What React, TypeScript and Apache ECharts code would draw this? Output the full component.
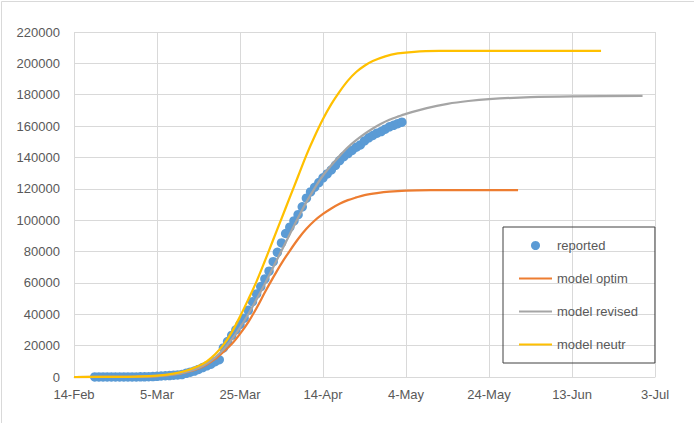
import React, { useEffect, useRef } from "react";
import * as echarts from "echarts";

// Day 0 = 14-Feb-2020
const startDate = Date.UTC(2020, 1, 14);
const xTicks = ["14-Feb", "5-Mar", "25-Mar", "14-Apr", "4-May", "24-May", "13-Jun", "3-Jul"];
const yTicks = [0, 20000, 40000, 60000, 80000, 100000, 120000, 140000, 160000, 180000, 200000, 220000];

// reported: daily, first day = 19-Feb (day 5)
const reportedFirstDay = 5;
const reported = [
  16, 16, 16, 16, 16, 16, 18, 21, 26, 53,
  66, 117, 150, 188, 240, 400, 639, 795, 902, 1139,
  1296, 1567, 2369, 3062, 3795, 4838, 6012, 7156, 8198, 9800,
  11000, 18500, 22600, 26500, 30000, 33500, 37500, 42500, 48000, 53000,
  57700, 62500, 67500, 73500, 79500, 85500, 91500, 95500, 99500, 103500,
  108500, 114000, 118000, 121000, 124000, 127000, 129500, 132000, 135000, 138000,
  140500, 142500, 144500, 146500, 148000, 150500, 152500, 154000, 155500, 156500,
  158000, 159500, 160500, 161500, 162500,
];

// model curves: [day, value]
const optimDays = [0, 15, 20, 25, 28, 30, 32, 34, 36, 38, 40, 42, 44, 46, 48, 50, 52, 54, 56, 58, 60, 62, 64, 66, 68, 70, 73, 76, 80, 86, 95, 107];
const optimValues = [0, 200, 600, 2000, 3800, 5500, 8000, 11500, 16000, 21000, 27500, 35000, 44000, 54000, 63500, 72500, 80500, 88000, 94500, 99800, 104000, 107500, 110500, 112800, 114500, 116000, 117300, 118200, 118800, 119100, 119200, 119200];

const revisedDays = [0, 15, 20, 25, 28, 30, 32, 34, 36, 38, 40, 42, 44, 46, 48, 50, 52, 54, 56, 58, 60, 62, 64, 66, 68, 70, 72, 74, 76, 78, 80, 85, 90, 95, 100, 110, 120, 137];
const revisedValues = [0, 200, 600, 2000, 3800, 5800, 8600, 12500, 17500, 24000, 31500, 40000, 49500, 59500, 70000, 80500, 91000, 101500, 111500, 120500, 128500, 135000, 141000, 146500, 151000, 155000, 158500, 161500, 164000, 166000, 167800, 171500, 174200, 176000, 177200, 178500, 179000, 179300];

const neutrDays = [0, 10, 15, 20, 24, 27, 30, 32, 34, 36, 38, 40, 42, 44, 46, 48, 50, 52, 54, 56, 58, 60, 62, 64, 66, 68, 70, 72, 75, 78, 82, 88, 100, 127];
const neutrValues = [0, 100, 300, 900, 2200, 4000, 7000, 10000, 14500, 20500, 28500, 38500, 49500, 61000, 74000, 87500, 101000, 114500, 128000, 141500, 153500, 164500, 174000, 182000, 189000, 194500, 198500, 201500, 204500, 206300, 207400, 207900, 208000, 208000];

const MONTHS = ["Jan", "Feb", "Mar", "Apr", "May", "Jun", "Jul", "Aug", "Sep", "Oct", "Nov", "Dec"];
function dayLabel(v: number): string {
  const d = new Date(startDate + v * 86400000);
  return d.getUTCDate() + "-" + MONTHS[d.getUTCMonth()];
}

const pairs = (xs: number[], ys: number[]) => xs.map((x, i) => [x, ys[i]]);

const FONT = "Liberation Sans";
const TXT = "#595959";
const GRID = "#D9D9D9";

export default function App() {
  const ref = useRef<HTMLDivElement>(null);
  useEffect(() => {
    if (!ref.current) return;
    const chart = echarts.init(ref.current, null, { renderer: "svg" });
    const hideSym = { opacity: 0 };
    chart.setOption({
      animation: false,
      backgroundColor: "#ffffff",
      grid: { left: 74, right: 39, top: 32, bottom: 46 },
      xAxis: {
        type: "value",
        min: 0,
        max: (xTicks.length - 1) * 20,
        interval: 20,
        axisLine: { show: true, lineStyle: { color: GRID, width: 1 } },
        axisTick: { show: false },
        splitLine: { show: true, lineStyle: { color: GRID, width: 1 } },
        axisLabel: {
          color: TXT,
          fontFamily: FONT,
          fontSize: 13,
          margin: 11,
          formatter: (v: number) => dayLabel(v),
        },
      },
      yAxis: {
        type: "value",
        min: yTicks[0],
        max: yTicks[yTicks.length - 1],
        interval: 20000,
        axisLine: { show: false },
        axisTick: { show: false },
        splitLine: { show: true, lineStyle: { color: GRID, width: 1 } },
        axisLabel: { color: TXT, fontFamily: FONT, fontSize: 13, margin: 14, formatter: (v: number) => String(v) },
      },
      legend: {
        orient: "vertical",
        left: 503,
        top: 227,
        padding: [12, 17, 12, 15],
        itemWidth: 33,
        itemHeight: 9,
        itemGap: 20,
        borderColor: "#404040",
        borderWidth: 1,
        textStyle: { color: TXT, fontFamily: FONT, fontSize: 13 },
        data: [
          { name: "reported", icon: "circle" },
          { name: "model optim", itemStyle: hideSym },
          { name: "model revised", itemStyle: hideSym },
          { name: "model neutr", itemStyle: hideSym },
        ],
      },
      series: [
        {
          name: "reported",
          type: "scatter",
          symbol: "circle",
          symbolSize: 9.5,
          itemStyle: { color: "#5B9BD5", opacity: 1 },
          data: reported.map((v, i) => [reportedFirstDay + i, v]),
          z: 2,
        },
        {
          name: "model optim",
          type: "line",
          smooth: 0.3,
          symbol: "none",
          lineStyle: { color: "#ED7D31", width: 2.25 },
          itemStyle: { color: "#ED7D31" },
          data: pairs(optimDays, optimValues),
          z: 3,
        },
        {
          name: "model revised",
          type: "line",
          smooth: 0.3,
          symbol: "none",
          lineStyle: { color: "#A5A5A5", width: 2.25 },
          itemStyle: { color: "#A5A5A5" },
          data: pairs(revisedDays, revisedValues),
          z: 4,
        },
        {
          name: "model neutr",
          type: "line",
          smooth: 0.3,
          symbol: "none",
          lineStyle: { color: "#FFC000", width: 2.25 },
          itemStyle: { color: "#FFC000" },
          data: pairs(neutrDays, neutrValues),
          z: 5,
        },
      ],
      graphic: [
        { type: "line", shape: { x1: 1.5, y1: 1.5, x2: 694, y2: 1.5 }, style: { stroke: GRID, lineWidth: 1 } },
        { type: "line", shape: { x1: 1.5, y1: 1.5, x2: 1.5, y2: 423 }, style: { stroke: GRID, lineWidth: 1 } },
      ],
    });
    return () => chart.dispose();
  }, []);
  return <div ref={ref} style={{ width: 694, height: 423, position: "absolute", left: 0, top: 0 }} />;
}
